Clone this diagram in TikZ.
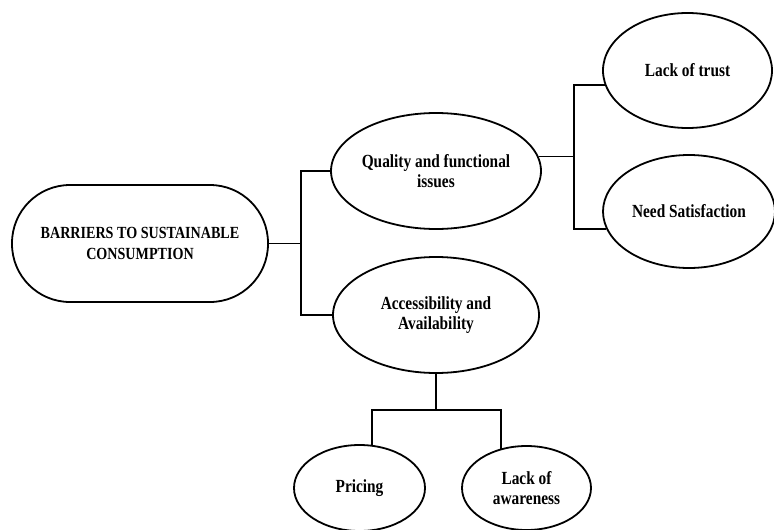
\documentclass[tikz,border=0pt]{standalone}
\usepackage{fontspec}
\newfontfamily\diagfont[FakeStretch=0.83]{Liberation Serif}
\usetikzlibrary{shapes}

\tikzset{
  bubble/.style={draw, ellipse, line width=1.8pt, inner sep=0pt, align=center,
    font=\diagfont\bfseries\fontsize{18.5}{20}\selectfont},
  rootbox/.style={draw, rectangle, rounded corners=58pt, line width=1.8pt, inner sep=0pt,
    align=center, minimum width=256pt, minimum height=117pt,
    font=\diagfont\bfseries\fontsize{17}{21}\selectfont},
  wire/.style={line width=1.8pt}
}

\begin{document}
\begin{tikzpicture}[x=1pt, y=-1pt]
		\useasboundingbox (0,0) rectangle (774,530);

		% Define nodes
		\node[rootbox] (bar) at (140,243.5) {BARRIERS TO SUSTAINABLE\\CONSUMPTION};
		\node[bubble, minimum width=207pt, minimum height=116pt] (qf) at (436,171) {Quality and functional\\issues};
		\node[bubble, minimum width=206pt, minimum height=116pt] (acc) at (436,315) {Accessibility and\\Availability};
		\node[bubble, minimum width=169pt, minimum height=115pt] (lt) at (687.5,70.5) {Lack of trust};
		\node[bubble, minimum width=172pt, minimum height=113pt] (ns) at (689,211.5) {Need Satisfaction};
		\node[bubble, minimum width=131pt, minimum height=86pt] (pr) at (359.5,488) {Pricing};
		\node[bubble, minimum width=129pt, minimum height=84pt] (la) at (526.5,488) {Lack of\\awareness};

		% Connect the nodes
		\draw[wire] (bar.east) -- ++(32,0) coordinate (j1);
		\draw[wire] (qf.west) -| (j1);
		\draw[wire] (acc.west) -| (j1);
		\draw[wire] (qf.8) -- ++(35,0) coordinate (j2);
		\draw[wire] (lt.190) -| (j2);
		\draw[wire] (ns.192) -| (j2);
		\draw[wire] (acc.south) -- ++(0,36) coordinate (j3);
		\draw[wire] (pr.74) |- (j3) -| (la.123);
	\end{tikzpicture}
\end{document}
